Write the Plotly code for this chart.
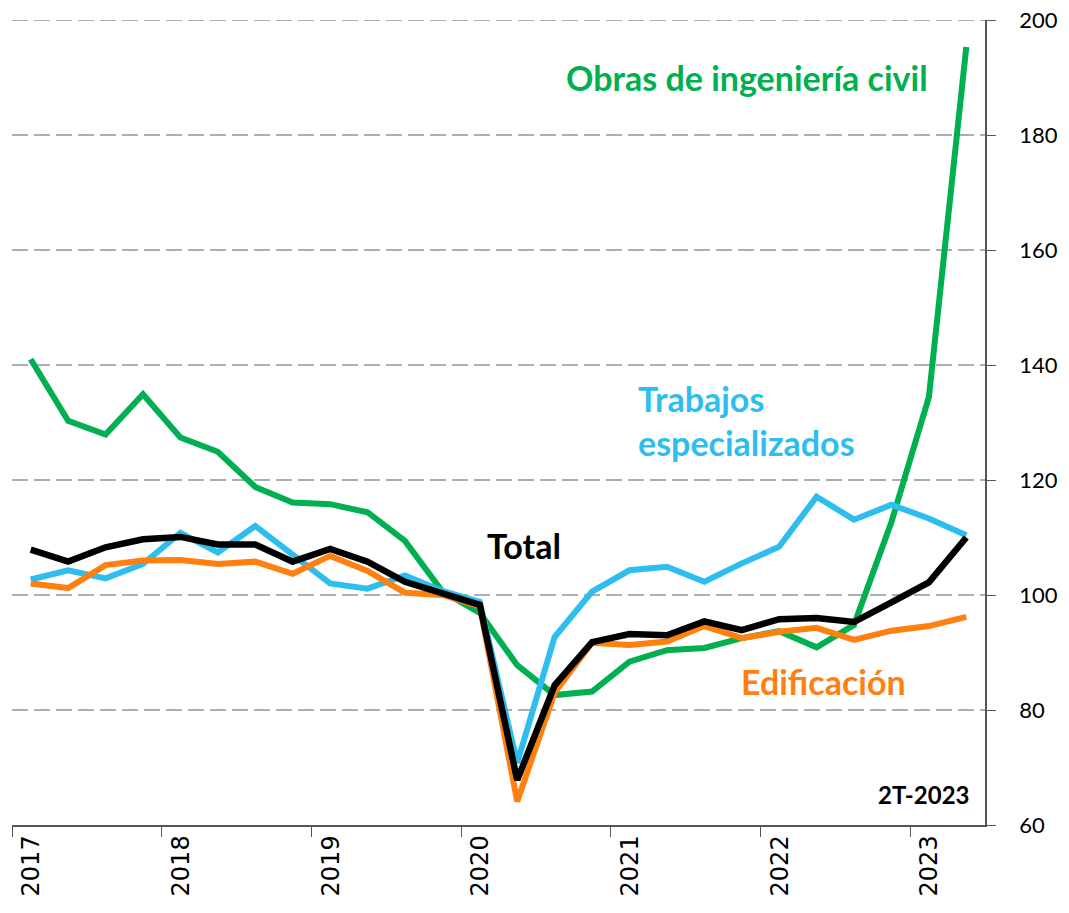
import plotly.graph_objects as go

years = [2017, 2018, 2019, 2020, 2021, 2022, 2023]
quarters = [(y, q) for y in range(2017, 2024) for q in range(1, 5)][:26]
x_vals = [y + (q - 0.5) / 4 for (y, q) in quarters]

obras = [141.0, 130.3, 127.9, 134.9, 127.4, 124.9, 118.8, 116.1, 115.8, 114.4,
         109.4, 100.6, 96.9, 87.8, 82.6, 83.2, 88.4, 90.4, 90.8, 92.5,
         93.7, 90.9, 94.8, 112.7, 134.4, 195.3]
total = [107.9, 105.8, 108.3, 109.7, 110.1, 108.8, 108.8, 105.8, 108.0, 105.8,
         102.3, 100.3, 98.3, 67.8, 84.3, 91.8, 93.2, 93.0, 95.4, 93.9,
         95.8, 96.0, 95.3, 98.7, 102.2, 110.0]
edif = [102.0, 101.2, 105.2, 106.0, 106.1, 105.4, 105.8, 103.7, 106.8, 104.2,
        100.4, 100.0, 98.0, 64.1, 83.0, 91.7, 91.3, 91.9, 94.6, 92.5,
        93.6, 94.3, 92.2, 93.8, 94.6, 96.2]
trab = [102.7, 104.3, 102.9, 105.4, 110.8, 107.4, 112.0, 107.0, 102.0, 101.1,
        103.4, 100.7, 98.8, 70.8, 92.7, 100.6, 104.3, 104.9, 102.3, 105.5,
        108.4, 117.1, 113.1, 115.7, 113.3, 110.4]

y_ticks = [60, 80, 100, 120, 140, 160, 180, 200]

GREEN = "#00B050"
BLUE = "#2EBDEF"
ORANGE = "#FF7F0F"
BLACK = "#000000"
GRID = "#ADADAD"

fig = go.Figure()
for vals, col, w, name in [
    (obras, GREEN, 6, "Obras de ingeniería civil"),
    (trab, BLUE, 6, "Trabajos especializados"),
    (edif, ORANGE, 6, "Edificación"),
    (total, BLACK, 6.5, "Total"),
]:
    fig.add_trace(go.Scatter(x=x_vals, y=vals, mode="lines", name=name,
                             line=dict(color=col, width=w), showlegend=False))

# dashed gridline at the top of the range (plotly omits it at the edge)
fig.add_shape(type="line", xref="paper", x0=0, x1=1, yref="y", y0=y_ticks[-1], y1=y_ticks[-1],
              line=dict(color=GRID, width=2, dash="16px,6px"), layer="below")

lab_font = "Lato, 'Open Sans', sans-serif"
fig.add_annotation(x=2023.13, y=190.0, text="<b>Obras de ingeniería civil</b>", showarrow=False,
                   xanchor="right", yanchor="middle", font=dict(family=lab_font, size=34, color=GREEN))
fig.add_annotation(x=2021.17, y=130.3, text="<b>Trabajos<br>especializados</b>", showarrow=False,
                   xanchor="left", yanchor="middle", align="left",
                   font=dict(family=lab_font, size=34, color=BLUE))
fig.add_annotation(x=2020.42, y=108.6, text="<b>Total</b>", showarrow=False,
                   xanchor="center", yanchor="middle", font=dict(family=lab_font, size=34, color=BLACK))
fig.add_annotation(x=2022.42, y=85.0, text="<b>Edificación</b>", showarrow=False,
                   xanchor="center", yanchor="middle", font=dict(family=lab_font, size=34, color=ORANGE))
fig.add_annotation(x=2023.41, y=65.3, text="<b>2T-2023</b>", showarrow=False,
                   xanchor="right", yanchor="middle", font=dict(family=lab_font, size=24, color=BLACK))

fig.update_layout(
    width=1053, height=895,
    margin=dict(l=4, r=76, t=12, b=78),
    plot_bgcolor="white", paper_bgcolor="white",
    xaxis=dict(range=[2017, 2023.5], tickmode="array",
               tickvals=[y + 0.13 for y in years],
               ticktext=[str(y) for y in years], tickangle=-90,
               ticks="", automargin=False, ticklabeloverflow="allow",
               ticklabelstandoff=-1,
               showline=True, linecolor="#555555", linewidth=1.5,
               showgrid=False, zeroline=False,
               minor=dict(tickmode="array", tickvals=years, ticks="outside",
                          ticklen=10, tickcolor="#555555", tickwidth=1.2, showgrid=False),
               tickfont=dict(family="DejaVu Sans", size=24, color="black")),
    yaxis=dict(range=[60, 200], side="right", tickmode="array", tickvals=y_ticks,
               ticks="outside", ticklen=9, tickcolor="#555555", tickwidth=1.2,
               ticklabelstandoff=19, automargin=False, ticklabeloverflow="allow",
               showline=True, linecolor="#555555", linewidth=1.5,
               showgrid=True, gridcolor=GRID, gridwidth=2, griddash="16px,6px",
               zeroline=False,
               tickfont=dict(family="Lato, 'Open Sans', sans-serif", size=22, color="black")),
)

fig.write_html("out.html")
